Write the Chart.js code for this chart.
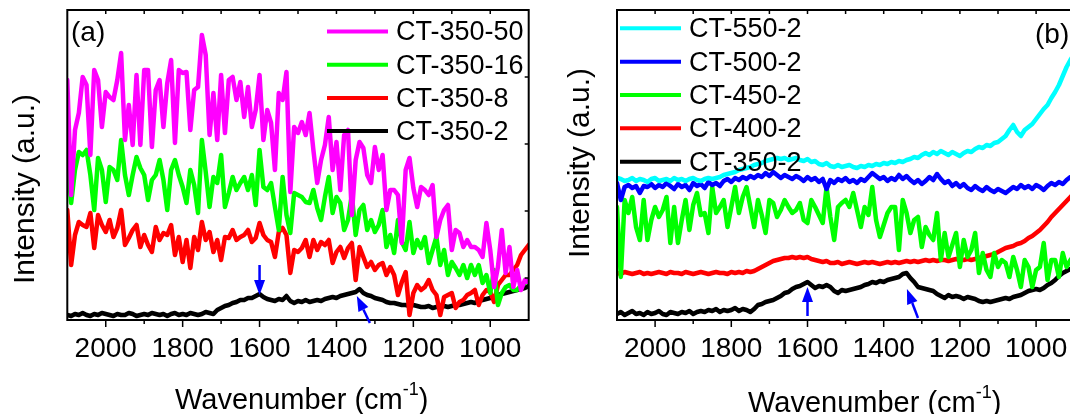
<!DOCTYPE html>
<html>
<head>
<meta charset="utf-8">
<script src="https://cdn.jsdelivr.net/npm/chart.js@4.4.1/dist/chart.umd.min.js"></script>
<style>
  html, body { margin: 0; padding: 0; background: #fff; overflow: hidden; }
  body { width: 1070px; height: 414px; position: relative; }
  #panelA { position: absolute; left: 0; top: 0; }
  #panelB { position: absolute; left: 550px; top: 0; }
</style>
</head>
<body>
<canvas id="panelA" width="540" height="414"></canvas>
<canvas id="panelB" width="530" height="414"></canvas>
<script>
// Raman spectra, wavenumber in cm-1 (x axis runs high -> low)
const wavenumber = [
  2100, 2090, 2080, 2070, 2060, 2050, 2040, 2030, 2020, 2010,
  2000, 1990, 1980, 1970, 1960, 1950, 1940, 1930, 1920, 1910,
  1900, 1890, 1880, 1870, 1860, 1850, 1840, 1830, 1820, 1810,
  1800, 1790, 1780, 1770, 1760, 1750, 1740, 1730, 1720, 1710,
  1700, 1690, 1680, 1670, 1660, 1650, 1640, 1630, 1620, 1610,
  1600, 1590, 1580, 1570, 1560, 1550, 1540, 1530, 1520, 1510,
  1500, 1490, 1480, 1470, 1460, 1450, 1440, 1430, 1420, 1410,
  1400, 1390, 1380, 1370, 1360, 1350, 1340, 1330, 1320, 1310,
  1300, 1290, 1280, 1270, 1260, 1250, 1240, 1230, 1220, 1210,
  1200, 1190, 1180, 1170, 1160, 1150, 1140, 1130, 1120, 1110,
  1100, 1090, 1080, 1070, 1060, 1050, 1040, 1030, 1020, 1010,
  1000, 990, 980, 970, 960, 950, 940, 930, 920, 910,
  900
];

const xTickLabels = [2000, 1800, 1600, 1400, 1200, 1000];
const xMinorTicks = [2000, 1900, 1800, 1700, 1600, 1500, 1400, 1300, 1200, 1100, 1000];
const intensityTicks = [243, 176, 109, 42];

// panel (a): CT-350 series, intensity in a.u. (stacked as plotted)
const namesA = ['CT-350-50', 'CT-350-16', 'CT-350-8', 'CT-350-2'];
const colorsA = ['#ff00ff', '#00ff00', '#ff0000', '#000000'];

const ct350_50 = [
  240, 125, 190, 207, 243, 235, 165, 250, 240, 193,
  228, 223, 220, 240, 267, 180, 215, 175, 245, 175,
  250, 250, 173, 230, 240, 193, 237, 260, 177, 250,
  247, 248, 190, 230, 233, 285, 265, 185, 227, 180,
  245, 187, 240, 243, 220, 238, 203, 233, 193, 210,
  245, 180, 210, 197, 150, 227, 220, 248, 128, 193,
  187, 198, 185, 207, 170, 137, 160, 175, 203, 150,
  178, 130, 185, 190, 105, 160, 178, 172, 145, 137,
  173, 150, 165, 110, 130, 130, 125, 77, 150, 162,
  132, 113, 133, 130, 125, 135, 83, 100, 110, 115,
  70, 90, 87, 73, 80, 73, 73, 70, 63, 97,
  70, 33, 53, 90, 47, 73, 33, 50, 30, 40,
  38
];
const ct350_16 = [
  167, 117, 150, 168, 165, 170, 145, 110, 162, 150,
  118, 153, 150, 140, 180, 145, 125, 145, 163, 152,
  145, 120, 140, 145, 160, 140, 110, 150, 160, 145,
  133, 117, 150, 135, 107, 180, 148, 113, 143, 137,
  165, 113, 127, 143, 130, 137, 143, 130, 145, 115,
  170, 133, 130, 137, 113, 90, 143, 105, 87, 127,
  125, 123, 118, 117, 130, 112, 100, 123, 143, 107,
  123, 117, 90, 100, 125, 85, 110, 115, 90, 100,
  88, 95, 110, 73, 85, 67, 100, 78, 70, 98,
  67, 80, 72, 83, 57, 70, 83, 55, 70, 45,
  58, 52, 45, 55, 42, 55, 45, 55, 37, 45,
  27, 50, 15, 27, 33, 35, 30, 30, 35, 37,
  40
];
const ct350_8 = [
  110, 55, 85, 98, 95, 93, 107, 72, 105, 95,
  88, 100, 83, 92, 110, 75, 82, 90, 95, 73,
  85, 75, 68, 93, 80, 87, 85, 95, 65, 83,
  58, 80, 52, 83, 70, 98, 80, 88, 68, 80,
  60, 83, 82, 90, 80, 83, 85, 90, 78, 82,
  97, 85, 80, 78, 63, 88, 92, 85, 47, 70,
  68, 72, 80, 63, 80, 70, 78, 75, 80, 57,
  68, 73, 62, 72, 77, 40, 73, 63, 53, 58,
  50, 55, 57, 45, 53, 45, 25, 38, 48, 5,
  27, 35, 30, 33, 40, 30, 25, 5, 23, 25,
  27, 12, 18, 20, 25, 27, 30, 15, 25, 30,
  28, 18, 35, 40, 45, 45, 50, 55, 65, 70,
  75
];
const ct350_2a = [
  5, 4, 6, 5, 7, 5, 4, 6, 5, 7,
  6, 5, 4, 6, 5, 5, 7, 6, 4, 5,
  6, 5, 7, 6, 5, 6, 4, 6, 7, 5,
  6, 5, 7, 6, 5, 6, 8, 7, 6, 10,
  12, 14, 15, 17, 18, 20, 20, 22, 22, 24,
  26, 23, 21, 20, 19, 21, 20, 24, 19, 17,
  19, 18, 20, 18, 19, 20, 19, 21, 22, 23,
  22, 24, 25, 26, 27, 28, 31, 27, 25, 24,
  22, 21, 20, 18, 17, 17, 16, 15, 15, 14,
  15, 14, 13, 13, 14, 12, 13, 13, 14, 13,
  14, 15, 15, 16, 17, 18, 17, 19, 20, 21,
  22, 23, 25, 26, 27, 28, 29, 30, 31, 32,
  34
];

// panel (b): annealing temperature series
const namesB = ['CT-550-2', 'CT-500-2', 'CT-450-2', 'CT-400-2', 'CT-350-2'];
const colorsB = ['#00ffff', '#0000ff', '#00ff00', '#ff0000', '#000000'];

const ct550_2 = [
  142, 141, 139, 140, 142, 139, 141, 140, 138, 141,
  142, 139, 140, 141, 139, 142, 140, 141, 139, 141,
  142, 140, 139, 141, 142, 141, 142, 143, 145, 146,
  147, 148, 150, 151, 152, 153, 155, 156, 157, 159,
  160, 161, 162, 161, 162, 160, 161, 162, 160, 159,
  161, 158, 159, 156, 155, 157, 154, 153, 155, 153,
  154, 155, 153, 152, 154, 153, 155, 154, 156, 155,
  157, 156, 158, 157, 159, 158, 160, 161, 163, 162,
  165, 167, 165, 168, 166, 169, 167, 165, 168, 166,
  164, 167, 169, 168, 171, 173, 172, 175, 174, 177,
  178, 181, 184, 190, 195, 188, 184, 190, 193, 196,
  201, 206, 211, 215, 222, 228, 235, 244, 253, 260,
  266
];
const ct500_2 = [
  137, 120, 133, 135, 132, 134, 127, 134, 133, 136,
  132, 135, 133, 137, 134, 131, 136, 133, 135, 130,
  137, 134, 136, 132, 138, 135, 137, 134, 139, 141,
  138, 142, 140, 143, 141, 144, 142, 145, 143, 147,
  144, 148, 145, 142, 145, 143, 141, 144, 142, 139,
  143, 140, 142, 138, 141, 131, 140, 137, 141, 139,
  142, 138, 140, 137, 141, 139, 143, 147, 144, 141,
  143, 139, 142, 140, 145, 141, 144, 140, 137, 140,
  136, 139, 143, 140, 146, 141, 137, 139, 134, 137,
  133, 136, 132, 130, 134, 131, 129, 133, 130, 128,
  131, 129, 127, 130, 133, 131, 135, 132, 134, 131,
  135, 133, 130, 134, 137, 135, 138, 136, 140, 143,
  141
];
const ct450_2 = [
  113, 43, 120, 107, 123, 93, 80, 120, 80, 100,
  113, 103, 110, 123, 77, 113, 77, 100, 120, 90,
  115, 127, 105, 107, 87, 133, 107, 113, 120, 93,
  113, 133, 107, 123, 133, 113, 93, 120, 105, 87,
  120, 117, 103, 110, 120, 113, 107, 110, 117, 100,
  97, 120, 113, 105, 97, 133, 103, 80, 113, 117,
  120, 113, 127, 110, 93, 113, 105, 133, 100, 83,
  95, 107, 113, 113, 70, 120, 107, 87, 100, 103,
  73, 93, 85, 80, 107, 60, 87, 63, 75, 87,
  53, 80, 63, 70, 87, 47, 67, 50, 43, 67,
  53, 60, 57, 43, 63, 50, 33, 60, 53, 33,
  50, 53, 77, 40, 60, 60, 43, 67, 53, 60,
  65
];
const ct400_2 = [
  47, 46, 48, 47, 46, 47, 48, 46, 47, 46,
  47, 48, 47, 46, 48, 47, 47, 46, 48, 47,
  46, 47, 48, 47, 46, 47, 48, 47, 47, 46,
  48, 47, 48, 47, 49, 48, 49, 51, 53, 55,
  57, 59, 60, 61, 62, 62, 63, 62, 63, 62,
  63, 61, 60, 59, 58, 59, 57, 57, 58, 56,
  57, 58, 57, 56, 57, 58, 57, 58, 57, 56,
  57, 58, 57, 58, 57, 58, 59, 58, 59, 58,
  59, 60, 59, 60, 59, 60, 60, 59, 60, 61,
  60, 60, 61, 60, 61, 62, 63, 64, 65, 66,
  68, 70, 72, 73, 74, 76, 77, 79, 82, 84,
  87, 90, 94, 98, 103, 107, 111, 115, 119, 123,
  127
];
const ct350_2b = [
  6, 8, 5, 7, 9, 6, 7, 5, 8, 6,
  7, 9, 6, 5, 8, 7, 6, 8, 7, 9,
  6, 8, 9, 8, 10, 9, 11, 8, 10, 9,
  10, 12, 9, 11, 10, 8, 11, 15, 16, 18,
  19, 20, 22, 24, 27, 28, 31, 33, 34, 36,
  38, 35, 32, 34, 33, 35, 33, 29, 27, 30,
  29, 30, 31, 32, 33, 35, 36, 38, 37, 39,
  38, 40, 41, 42, 43, 46, 47, 42, 38, 33,
  32, 31, 30, 29, 26, 24, 22, 25, 23, 24,
  23, 21, 23, 22, 21, 19, 18, 19, 18, 19,
  20, 21, 22, 21, 23, 24, 25, 27, 29, 30,
  31, 30, 32, 35, 37, 40, 44, 47, 49, 51,
  53
];

// blue arrows marking the D and G bands, [wavenumber, intensity]
const arrowsA = [
  { from: [1600, 55], to: [1600, 25] },
  { from: [1313, -3], to: [1347, 24] }
];
const arrowsB = [
  { from: [1600, 4], to: [1600, 33] },
  { from: [1310, 2], to: [1339, 31] }
];

const FONT = 'Arial, "Liberation Sans", Helvetica, sans-serif';

const panelDecor = {
  id: 'panelDecor',
  afterDatasetsDraw(chart, args, o) {
    const { ctx, chartArea: a, scales: { x, y } } = chart;
    ctx.save();

    // tick marks: bottom outward, top and right inward
    ctx.strokeStyle = '#000';
    ctx.lineWidth = 1.5;
    ctx.beginPath();
    for (const v of xMinorTicks) {
      const px = x.getPixelForValue(v);
      const len = xTickLabels.includes(v) ? 7 : 4;
      ctx.moveTo(px, a.bottom);
      ctx.lineTo(px, a.bottom + len);
      ctx.moveTo(px, a.top);
      ctx.lineTo(px, a.top + 4);
    }
    for (const v of intensityTicks) {
      const py = y.getPixelForValue(v);
      ctx.moveTo(a.right, py);
      ctx.lineTo(a.right - 4, py);
    }
    ctx.stroke();

    ctx.lineWidth = 2;
    ctx.strokeRect(a.left, a.top, a.right - a.left, a.bottom - a.top);

    // arrows
    ctx.strokeStyle = '#0000ff';
    ctx.fillStyle = '#0000ff';
    for (const ar of o.arrows) {
      const x0 = x.getPixelForValue(ar.from[0]), y0 = y.getPixelForValue(ar.from[1]);
      const x1 = x.getPixelForValue(ar.to[0]), y1 = y.getPixelForValue(ar.to[1]);
      const ang = Math.atan2(y1 - y0, x1 - x0);
      const c = Math.cos(ang), s = Math.sin(ang);
      const hl = 15, hw = 5.5;
      ctx.lineWidth = 2.5;
      ctx.beginPath();
      ctx.moveTo(x0, y0);
      ctx.lineTo(x1 - hl * c, y1 - hl * s);
      ctx.stroke();
      ctx.beginPath();
      ctx.moveTo(x1, y1);
      ctx.lineTo(x1 - hl * c + hw * s, y1 - hl * s - hw * c);
      ctx.lineTo(x1 - hl * c - hw * s, y1 - hl * s + hw * c);
      ctx.closePath();
      ctx.fill();
    }

    // legend
    const lg = o.legend;
    ctx.font = `${lg.size}px ${FONT}`;
    ctx.textBaseline = 'middle';
    ctx.textAlign = 'left';
    chart.data.datasets.forEach((ds, i) => {
      const ry = lg.y + i * lg.step;
      ctx.strokeStyle = ds.borderColor;
      ctx.lineWidth = 4;
      ctx.beginPath();
      ctx.moveTo(lg.x, ry);
      ctx.lineTo(lg.x + lg.len, ry);
      ctx.stroke();
      ctx.fillStyle = '#000';
      ctx.fillText(ds.label, lg.x + lg.len + 8, ry + 1.5);
    });

    // panel label
    ctx.fillStyle = '#000';
    ctx.font = `28px ${FONT}`;
    ctx.textBaseline = 'alphabetic';
    ctx.fillText(o.tag.text, o.tag.x, o.tag.y);

    // x title with superscript
    ctx.font = `29px ${FONT}`;
    let tx = o.xTitle.x;
    const base = 'Wavenumber (cm';
    ctx.fillText(base, tx, o.xTitle.y);
    tx += ctx.measureText(base).width;
    ctx.font = `18px ${FONT}`;
    ctx.fillText('-1', tx, o.xTitle.y - 14);
    tx += ctx.measureText('-1').width;
    ctx.font = `29px ${FONT}`;
    ctx.fillText(')', tx, o.xTitle.y);

    // y title
    ctx.translate(o.yTitle.x, o.yTitle.y);
    ctx.rotate(-Math.PI / 2);
    ctx.textAlign = 'center';
    ctx.font = `30px ${FONT}`;
    ctx.fillText('Intensity (a.u.)', 0, 0);

    ctx.restore();
  }
};

function datasets(names, series, colors) {
  return names.map((n, i) => ({
    label: n,
    data: wavenumber.map((w, j) => ({ x: w, y: series[i][j] })),
    borderColor: colors[i],
    borderWidth: 4.5,
    pointRadius: 0,
    tension: 0,
    borderJoinStyle: 'round',
    borderCapStyle: 'round',
    fill: false
  }));
}

function options(yWidth, padRight, decor) {
  return {
    responsive: false,
    animation: false,
    devicePixelRatio: 1,
    layout: { padding: { top: 10, right: padRight, left: 0, bottom: 0 } },
    plugins: {
      legend: { display: false },
      tooltip: { enabled: false },
      panelDecor: decor
    },
    scales: {
      x: {
        type: 'linear',
        reverse: true,
        min: 900,
        max: 2100,
        grid: { display: false },
        border: { display: false },
        afterBuildTicks: s => { s.ticks = xTickLabels.map(v => ({ value: v })); },
        afterFit: s => { s.height = 94; },
        ticks: {
          color: '#000',
          font: { size: 28, family: FONT },
          padding: 4,
          maxRotation: 0,
          autoSkip: false,
          callback: v => String(v)
        }
      },
      y: {
        min: 0,
        max: 310,
        grid: { display: false },
        border: { display: false },
        ticks: { display: false },
        afterFit: s => { s.width = yWidth; }
      }
    }
  };
}

new Chart(document.getElementById('panelA').getContext('2d'), {
  type: 'line',
  data: { datasets: datasets(namesA, [ct350_50, ct350_16, ct350_8, ct350_2a], colorsA) },
  options: options(67.3, 11.3, {
    arrows: arrowsA,
    legend: { x: 327, y: 31.5, step: 33.2, len: 61, size: 27 },
    tag: { text: '(a)', x: 71, y: 41 },
    xTitle: { x: 175, y: 409 },
    yTitle: { x: 34, y: 189 }
  }),
  plugins: [panelDecor]
});

new Chart(document.getElementById('panelB').getContext('2d'), {
  type: 'line',
  data: { datasets: datasets(namesB, [ct550_2, ct500_2, ct450_2, ct400_2, ct350_2b], colorsB) },
  options: options(67, 5.8, {
    arrows: arrowsB,
    legend: { x: 70, y: 28.3, step: 33.35, len: 61, size: 27 },
    tag: { text: '(b)', x: 485, y: 43 },
    xTitle: { x: 198, y: 412 },
    yTitle: { x: 39, y: 163 }
  }),
  plugins: [panelDecor]
});
</script>
</body>
</html>
